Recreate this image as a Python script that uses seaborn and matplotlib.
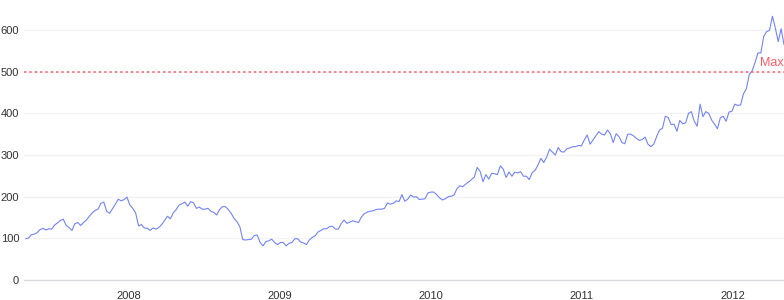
import matplotlib
matplotlib.use("Agg")
import matplotlib.pyplot as plt
import numpy as np
import pandas as pd
import seaborn as sns

# Weekly closing values (Friday), Apr 2007 - May 2012
start_date = "2007-04-27"
end_date = "2012-05-04"
values_2007 = [99, 100.8, 108.7, 110, 114, 121, 124, 120, 123, 122, 132, 137, 143, 146,
               131, 126, 119, 135, 138, 131, 138, 144, 153, 161, 167, 170, 184, 187,
               165, 160, 171, 182, 194, 190, 193, 199]
values_2008 = [180, 172, 161, 130, 133, 125, 124, 119, 125, 122, 126, 133, 143, 153,
               147, 161, 169, 180, 183, 187, 177, 188, 185, 172, 175, 170, 170, 172,
               165, 162, 156, 169, 176, 176, 169, 160, 148, 140, 128, 97, 96, 97, 98,
               107, 108, 90, 82, 92, 94, 98, 90, 85]
values_2009 = [90, 90, 82, 88, 90, 99, 99, 91, 89, 85, 96, 102, 106, 115, 119, 123, 123,
               128, 129, 122, 122, 135, 144, 136, 139, 142, 140, 138, 151, 159, 163, 165,
               166, 169, 170, 170, 172, 185, 182, 184, 190, 188, 205, 189, 194, 204, 199,
               200, 193, 194, 195, 209]
values_2010 = [211, 211, 205, 197, 192, 195, 200, 201, 204, 219, 226, 224, 230, 235, 241,
               247, 270, 261, 236, 253, 242, 256, 255, 253, 274, 266, 246, 259, 249, 259,
               257, 260, 249, 249, 241, 258, 263, 276, 292, 282, 295, 314, 307, 300, 318,
               308, 307, 315, 317, 320, 320, 323, 322]
values_2011 = [336, 348, 326, 336, 346, 356, 350, 348, 360, 351, 330, 351, 344, 330, 327,
               350, 350, 346, 340, 335, 337, 343, 326, 320, 326, 344, 360, 364, 393, 390,
               373, 374, 357, 383, 375, 377, 400, 404, 381, 369, 422, 392, 404, 400, 384,
               374, 363, 389, 393, 381, 403, 405]
values_2012 = [422, 419, 420, 447, 459, 493, 502, 522, 545, 545, 585, 596, 599, 633, 605,
               572, 603, 565]
y_ticks = [0, 100, 200, 300, 400, 500, 600]
x_tick_years = ["2008", "2009", "2010", "2011", "2012"]
max_line_value = 500
max_label = "Max"

values = values_2007 + values_2008 + values_2009 + values_2010 + values_2011 + values_2012
dates = pd.date_range(start_date, periods=len(values), freq="W-FRI")
df = pd.DataFrame({"date": dates, "value": values})

sns.set_style("white")
plt.rcParams["font.family"] = ["Liberation Sans", "DejaVu Sans"]

fig = plt.figure(figsize=(7.84, 3.0), dpi=100)
ax = fig.add_axes([24 / 784, 20 / 300, 1 - 24 / 784, 280 / 300])

sns.lineplot(data=df, x="date", y="value", ax=ax, color="#7383ff", linewidth=0.8)

ax.axhline(max_line_value, color="#ff5a64", linewidth=1.1, linestyle=(0, (1.5, 2)))
ax.text(0.999, max_line_value + 7, max_label, transform=ax.get_yaxis_transform(),
        ha="right", va="bottom", color="#ff5a64", fontsize=9)

ax.set_xlim(pd.Timestamp("2007-04-23"), pd.Timestamp("2012-05-04"))
ax.set_ylim(0, 672)
ax.set_yticks(y_ticks)
ax.set_xticks([pd.Timestamp(f"{y}-01-01") for y in x_tick_years])
ax.set_xticklabels(x_tick_years)
ax.set_xlabel("")
ax.set_ylabel("")

for y in y_ticks[1:]:
    ax.axhline(y, color="#f3f3f3", linewidth=1, zorder=0)

for side in ["top", "right", "left"]:
    ax.spines[side].set_visible(False)
ax.spines["bottom"].set_color("#d9d9df")
ax.spines["bottom"].set_linewidth(1)

ax.tick_params(axis="x", length=4, width=1, color="#d9d9df", labelsize=8,
               labelcolor="#333333", pad=4)
ax.tick_params(axis="y", length=3, width=1, color="#d9d9df", labelsize=8,
               labelcolor="#333333", pad=0.5)

fig.savefig("out.png", dpi=100)
